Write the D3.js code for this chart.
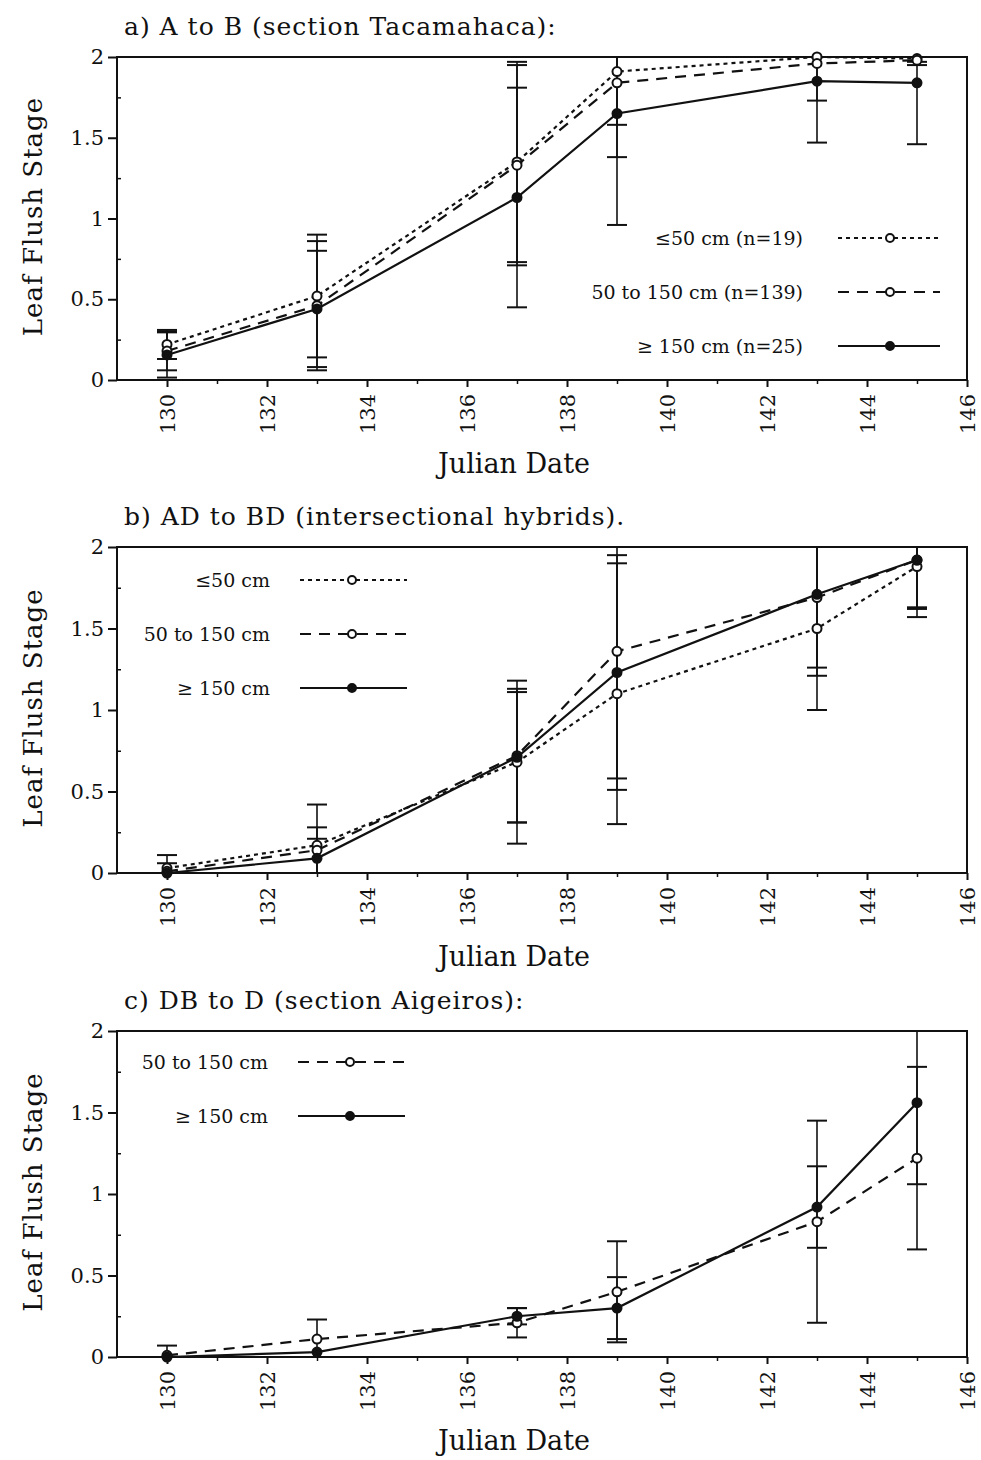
<!DOCTYPE html>
<html>
<head>
<meta charset="utf-8">
<script src="https://cdn.jsdelivr.net/npm/d3@7"></script>
<style>
  body { margin: 0; background: #fff; }
  text { font-family: "DejaVu Serif", serif; fill: #111; }
</style>
</head>
<body>
<div class="canvas"></div>
<script>
const days = [130, 133, 137, 139, 143, 145];
const xTicks = [130, 132, 134, 136, 138, 140, 142, 144, 146];
const yTicks = [0, 0.5, 1, 1.5, 2];

// panel a) A to B
const aSmall = [0.22, 0.52, 1.35, 1.91, 2.0, 1.99];
const aSmallSd = [0.09, 0.38, 0.62, 0.33, 0, 0.02];
const aMid = [0.18, 0.46, 1.33, 1.84, 1.96, 1.98];
const aMidSd = [0.12, 0.40, 0.62, 0.46, 0.23, 0.03];
const aTall = [0.155, 0.44, 1.13, 1.65, 1.85, 1.84];
const aTallSd = [0.14, 0.36, 0.68, 0.69, 0.38, 0.38];

// panel b) AD to BD
const bSmall = [0.03, 0.17, 0.68, 1.10, 1.50, 1.88];
const bSmallSd = [0.08, 0.25, 0.50, 0.80, 0.50, 0.31];
const bMid = [0.01, 0.14, 0.72, 1.36, 1.69, 1.92];
const bMidSd = [0.05, 0.14, 0.41, 0.78, 0.48, 0.29];
const bTall = [0.0, 0.09, 0.71, 1.23, 1.71, 1.92];
const bTallSd = [0.0, 0.12, 0.40, 0.72, 0.45, 0.30];

// panel c) DB to D
const cMid = [0.01, 0.11, 0.21, 0.40, 0.83, 1.22];
const cMidSd = [0.06, 0.12, 0.09, 0.31, 0.62, 0.56];
const cTall = [0.0, 0.03, 0.25, 0.30, 0.92, 1.56];
const cTallSd = [0.0, 0.0, 0.05, 0.19, 0.25, 0.50];

const styles = {
  small: { dash: '4,4', fill: '#fff' },
  mid: { dash: '11,8', fill: '#fff' },
  tall: { dash: null, fill: '#111' }
};

const panels = [
  {
    title: 'a) A to B (section Tacamahaca):', top: 57, bottom: 380,
    legend: { x: 803, y: 238, x0: 838, x1: 940, m: 890 },
    series: [
      { key: 'small', label: '≤50 cm (n=19)', vals: aSmall, sd: aSmallSd },
      { key: 'mid', label: '50 to 150 cm (n=139)', vals: aMid, sd: aMidSd },
      { key: 'tall', label: '≥ 150 cm (n=25)', vals: aTall, sd: aTallSd }
    ]
  },
  {
    title: 'b) AD to BD (intersectional hybrids).', top: 547, bottom: 873,
    legend: { x: 270, y: 580, x0: 300, x1: 407, m: 352 },
    series: [
      { key: 'small', label: '≤50 cm', vals: bSmall, sd: bSmallSd },
      { key: 'mid', label: '50 to 150 cm', vals: bMid, sd: bMidSd },
      { key: 'tall', label: '≥ 150 cm', vals: bTall, sd: bTallSd }
    ]
  },
  {
    title: 'c) DB to D (section Aigeiros):', top: 1031, bottom: 1357,
    legend: { x: 268, y: 1062, x0: 298, x1: 405, m: 350 },
    series: [
      { key: 'mid', label: '50 to 150 cm', vals: cMid, sd: cMidSd },
      { key: 'tall', label: '≥ 150 cm', vals: cTall, sd: cTallSd }
    ]
  }
];

const width = 981, height = 1460;
const left = 117, right = 967;

const svg = d3.select('.canvas')
  .append('svg')
  .attr('width', width)
  .attr('height', height);

const x = d3.scaleLinear().domain([129, 146]).range([left, right]);

panels.forEach(p => {
  const y = d3.scaleLinear().domain([0, 2]).range([p.bottom, p.top]);
  const g = svg.append('g');

  // title
  g.append('text')
    .attr('x', 124).attr('y', p.top - 22)
    .attr('font-size', 25)
    .attr('letter-spacing', 1)
    .text(p.title);

  // frame
  g.append('rect')
    .attr('x', left).attr('y', p.top)
    .attr('width', right - left).attr('height', p.bottom - p.top)
    .attr('fill', 'none').attr('stroke', '#111').attr('stroke-width', 2);

  // x axis, major + minor ticks
  const xAxis = g.append('g')
    .attr('transform', `translate(0,${p.bottom})`)
    .call(d3.axisBottom(x).tickValues(xTicks).tickSize(7).tickFormat(d3.format('d')));
  xAxis.select('.domain').remove();
  xAxis.selectAll('line').attr('stroke', '#111').attr('stroke-width', 2);
  xAxis.selectAll('text')
    .attr('font-size', 21)
    .attr('transform', 'rotate(-90)')
    .attr('text-anchor', 'end')
    .attr('x', -14).attr('y', 0).attr('dy', '0.35em');
  g.append('g')
    .attr('transform', `translate(0,${p.bottom})`)
    .call(d3.axisBottom(x).tickValues(d3.range(131, 146, 2)).tickSize(4).tickFormat(''))
    .call(a => a.select('.domain').remove())
    .selectAll('line').attr('stroke', '#111').attr('stroke-width', 1.5);

  // y axis
  const yAxis = g.append('g')
    .attr('transform', `translate(${left},0)`)
    .call(d3.axisLeft(y).tickValues(yTicks).tickSize(9).tickFormat(d3.format('')));
  yAxis.select('.domain').remove();
  yAxis.selectAll('line').attr('stroke', '#111').attr('stroke-width', 2);
  yAxis.selectAll('text').attr('font-size', 21).attr('x', -13);
  g.append('g')
    .attr('transform', `translate(${left},0)`)
    .call(d3.axisRight(y).tickValues([0.25, 0.75, 1.25, 1.75]).tickSize(4).tickFormat(''))
    .call(a => a.select('.domain').remove())
    .selectAll('line').attr('stroke', '#111').attr('stroke-width', 1.5);

  // axis titles
  g.append('text')
    .attr('transform', `translate(42,${(p.top + p.bottom) / 2 - 2}) rotate(-90)`)
    .attr('text-anchor', 'middle')
    .attr('font-size', 26)
    .attr('letter-spacing', 1)
    .text('Leaf Flush Stage');
  g.append('text')
    .attr('x', (left + right) / 2 - 28).attr('y', p.bottom + 93)
    .attr('text-anchor', 'middle')
    .attr('font-size', 27)
    .text('Julian Date');

  // error bars
  p.series.forEach(s => {
    const bars = days.map((d, i) => ({ d, v: s.vals[i], sd: s.sd[i] })).filter(e => e.sd > 0);
    bars.forEach(e => {
      const lo = Math.max(0, e.v - e.sd), hi = Math.min(2, e.v + e.sd);
      g.append('line')
        .attr('x1', x(e.d)).attr('x2', x(e.d))
        .attr('y1', y(lo)).attr('y2', y(hi))
        .attr('stroke', '#111').attr('stroke-width', 1.6);
      [e.v - e.sd, e.v + e.sd].filter(c => c >= 0 && c <= 2).forEach(c => {
        g.append('line')
          .attr('x1', x(e.d) - 10).attr('x2', x(e.d) + 10)
          .attr('y1', y(c)).attr('y2', y(c))
          .attr('stroke', '#111').attr('stroke-width', 2);
      });
    });
  });

  // lines and markers
  const line = d3.line().x((d, i) => x(days[i])).y(d => y(d));
  p.series.forEach(s => {
    const st = styles[s.key];
    g.append('path')
      .datum(s.vals)
      .attr('d', line)
      .attr('fill', 'none')
      .attr('stroke', '#111')
      .attr('stroke-width', 2.2)
      .attr('stroke-dasharray', st.dash);
    g.selectAll(null)
      .data(s.vals)
      .join('circle')
      .attr('cx', (d, i) => x(days[i]))
      .attr('cy', d => y(d))
      .attr('r', 4.5)
      .attr('fill', st.fill)
      .attr('stroke', '#111')
      .attr('stroke-width', 2);
  });

  // legend
  const lg = p.legend;
  p.series.forEach((s, i) => {
    const st = styles[s.key];
    const ly = lg.y + i * 54;
    g.append('text')
      .attr('x', lg.x).attr('y', ly)
      .attr('dy', '0.35em')
      .attr('text-anchor', 'end')
      .attr('font-size', 19)
      .text(s.label);
    g.append('line')
      .attr('x1', lg.x0).attr('x2', lg.x1)
      .attr('y1', ly).attr('y2', ly)
      .attr('stroke', '#111').attr('stroke-width', 2)
      .attr('stroke-dasharray', st.dash);
    g.append('circle')
      .attr('cx', lg.m).attr('cy', ly).attr('r', 4)
      .attr('fill', st.fill).attr('stroke', '#111').attr('stroke-width', 2);
  });
});
</script>
</body>
</html>
